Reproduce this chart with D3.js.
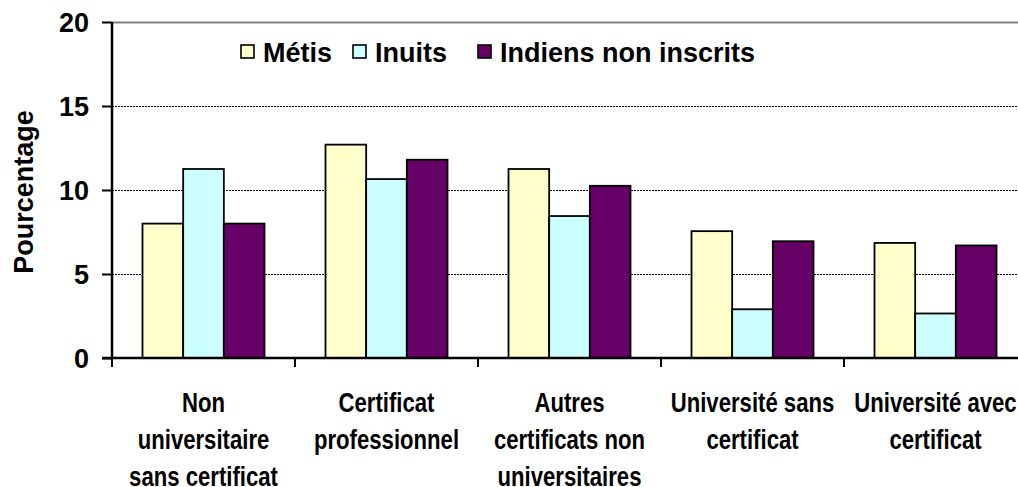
<!DOCTYPE html>
<html>
<head>
<meta charset="utf-8">
<script src="https://cdn.jsdelivr.net/npm/d3@7"></script>
<style>
	body { margin: 0; background: #fff; }
	text { font-family: "Liberation Sans", Arial, sans-serif; font-weight: bold; fill: #000; }
</style>
</head>
<body>
<div id="chart"></div>
<script>
// données
var categories = [
	["Non", "universitaire", "sans certificat"],
	["Certificat", "professionnel"],
	["Autres", "certificats non", "universitaires"],
	["Université sans", "certificat"],
	["Université avec", "certificat"]
];
var series = ["Métis", "Inuits", "Indiens non inscrits"];
var colors = ["#FFFFCC", "#CCFFFF", "#660066"];
var metis = [8.0, 12.7, 11.25, 7.55, 6.85];
var inuits = [11.25, 10.65, 8.45, 2.9, 2.65];
var indiens = [8.0, 11.8, 10.25, 6.95, 6.7];
var yTicks = [0, 5, 10, 15, 20];

drawchart()

function drawchart() {
	var width = 1018, height = 487;
	var plot = { left: 112, top: 22, bottom: 358, step: 183 };
	var values = [metis, inuits, indiens];

	var svg = d3.select("#chart")
		.append("svg")
		.attr("width", width)
		.attr("height", height);

	var idx = categories.map(function(d, i) { return i; });
	var x0 = d3.scaleBand()
		.domain(idx)
		.range([plot.left, plot.left + plot.step * categories.length])
		.padding(0);
	var x1 = d3.scaleBand()
		.domain(series)
		.range([0, x0.bandwidth()])
		.paddingInner(0)
		.paddingOuter(0.75);
	var y = d3.scaleLinear()
		.domain([0, 20])
		.range([plot.bottom, plot.top]);

	// lignes de quadrillage
	svg.append("g")
		.selectAll("line")
		.data(yTicks.filter(function(d) { return d > 0; }))
		.join("line")
		.attr("x1", plot.left)
		.attr("x2", width)
		.attr("y1", function(d) { return y(d) + 0.5; })
		.attr("y2", function(d) { return y(d) + 0.5; })
		.attr("stroke", function(d) { return d == 20 ? "#808080" : "#000"; })
		.attr("stroke-width", function(d) { return d == 20 ? 2 : 1; })
		.attr("stroke-dasharray", function(d) { return d == 20 ? null : "2,1"; });

	// barres
	var groups = svg.append("g")
		.selectAll("g")
		.data(idx)
		.join("g")
		.attr("transform", function(i) { return `translate(${x0(i)},0)`; });
	groups.selectAll("rect")
		.data(function(i) {
			return series.map(function(s, k) { return { s: s, k: k, v: values[k][i] }; });
		})
		.join("rect")
		.attr("x", function(d) { return x1(d.s); })
		.attr("y", function(d) { return y(d.v); })
		.attr("width", x1.bandwidth())
		.attr("height", function(d) { return y(0) - y(d.v); })
		.attr("fill", function(d) { return colors[d.k]; })
		.attr("stroke", "#000")
		.attr("stroke-width", 1.8);

	// axe Y
	var yAxis = svg.append("g")
		.attr("transform", `translate(${plot.left},0)`)
		.call(d3.axisLeft(y).tickValues(yTicks).tickSize(10).tickPadding(13));
	yAxis.select(".domain").attr("stroke", "#000").attr("stroke-width", 2.5)
		.attr("d", `M0,${plot.top}V${plot.bottom}`);
	yAxis.selectAll(".tick line").attr("stroke", "#000").attr("stroke-width", 2);
	yAxis.selectAll(".tick text")
		.style("font-size", "27px")
		.style("font-family", "Liberation Sans, Arial, sans-serif")
		.style("font-weight", "bold")
		.attr("dy", "0.36em");

	// axe X
	var xAxis = svg.append("g")
		.attr("transform", `translate(0,${plot.bottom})`);
	xAxis.append("line")
		.attr("x1", plot.left - 10)
		.attr("x2", width)
		.attr("stroke", "#000")
		.attr("stroke-width", 2.5);
	xAxis.selectAll(".xt")
		.data(idx)
		.join("line")
		.attr("class", "xt")
		.attr("x1", function(i) { return x0(i); })
		.attr("x2", function(i) { return x0(i); })
		.attr("y1", 0)
		.attr("y2", 9)
		.attr("stroke", "#000")
		.attr("stroke-width", 2);

	var labels = xAxis.selectAll(".xl")
		.data(idx)
		.join("text")
		.attr("class", "xl")
		.attr("transform", function(i) {
			return `translate(${x0(i) + x0.bandwidth() / 2},54) scale(0.82,1)`;
		})
		.style("font-size", "27px")
		.attr("text-anchor", "middle");
	labels.selectAll("tspan")
		.data(function(i) { return categories[i]; })
		.join("tspan")
		.attr("x", 0)
		.attr("y", function(d, j) { return j * 37; })
		.text(function(d) { return d; });

	// titre de l'axe Y
	svg.append("text")
		.attr("transform", `translate(33,192) rotate(-90)`)
		.attr("text-anchor", "middle")
		.style("font-size", "27px")
		.text("Pourcentage");

	// légende
	var legX = [241, 353, 478];
	var leg = svg.append("g")
		.selectAll("g")
		.data(series)
		.join("g")
		.attr("transform", function(d, k) { return `translate(${legX[k]},45)`; });
	leg.append("rect")
		.attr("width", 13)
		.attr("height", 13)
		.attr("fill", function(d, k) { return colors[k]; })
		.attr("stroke", "#000")
		.attr("stroke-width", 1.6);
	leg.append("text")
		.attr("x", 22)
		.attr("y", 17)
		.style("font-size", "27px")
		.text(function(d) { return d; });
}
</script>
</body>
</html>
